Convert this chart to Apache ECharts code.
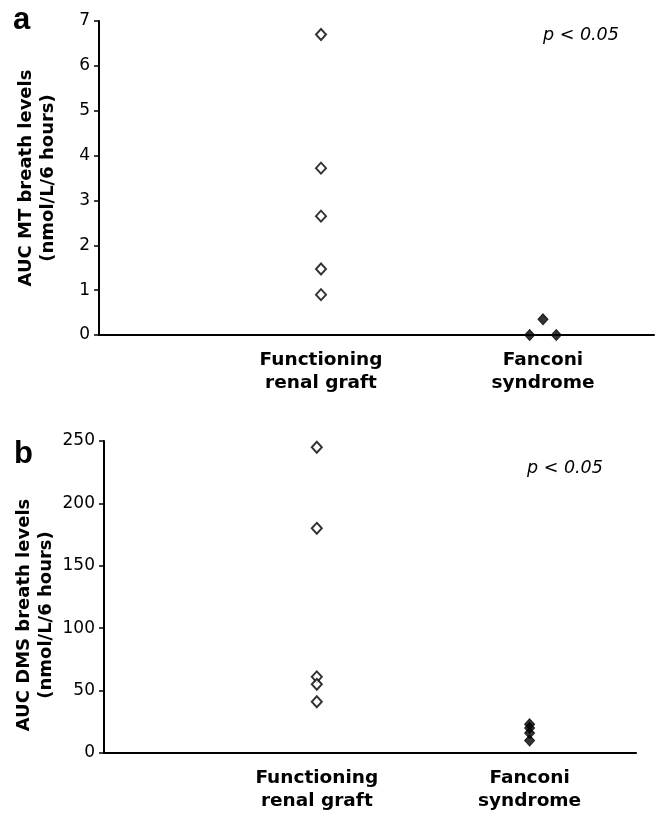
<!DOCTYPE html>
<html>
<head>
<meta charset="utf-8">
<script src="https://cdn.jsdelivr.net/npm/echarts@6/dist/echarts.min.js"></script>
<style>
html,body{margin:0;padding:0;background:#fff;}
#chart{width:657px;height:813px;}
</style>
</head>
<body>
<div id="chart"></div>
<script>
// Categories (x positions 1 and 2 on a hidden 0..2.5 value scale)
const categories = ['Functioning\nrenal graft', 'Fanconi\nsyndrome'];
// Panel a: AUC MT breath levels
const mtFunctioning = [6.70, 3.72, 2.65, 1.47, 0.90];
const mtFanconi = [0, 0.35, 0];
const mtFanconiPos = [1.94, 2.0, 2.06];
// Panel b: AUC DMS breath levels
const dmsFunctioning = [245, 180, 61, 55, 41];
const dmsFanconi = [23, 20, 16, 10];
const mtTicks = [0, 7, 1];
const dmsTicks = [0, 250, 50];

const FONT = 'DejaVu Sans';
const chart = echarts.init(document.getElementById('chart'), null, {renderer: 'canvas'});

function xAxisDef(gi) {
  return {
    type: 'value', gridIndex: gi, min: 0, max: 2.5, interval: 1,
    axisLine: {show: true, lineStyle: {color: '#000', width: 2}},
    axisTick: {show: false}, splitLine: {show: false},
    axisLabel: {
      margin: 14, color: '#000', fontFamily: FONT, fontWeight: 'bold', fontSize: 18.5, lineHeight: 23,
      showMinLabel: true, showMaxLabel: true,
      formatter: v => (v === 1 ? categories[0] : (v === 2 ? categories[1] : ''))
    }
  };
}
function yAxisDef(gi, t, name, pad, gap) {
  return {
    type: 'value', gridIndex: gi, min: t[0], max: t[1], interval: t[2],
    name: name, nameLocation: 'middle', nameRotate: 90, nameGap: gap, nameMoveOverlap: false,
    nameTextStyle: {color: '#000', fontFamily: FONT, fontWeight: 'bold', fontSize: 18, lineHeight: 22, padding: pad},
    axisLine: {show: true, lineStyle: {color: '#000', width: 2}},
    axisTick: {show: true, length: 5, lineStyle: {color: '#000', width: 1.5}},
    splitLine: {show: false},
    axisLabel: {margin: 9, color: '#000', fontFamily: FONT, fontSize: 17}
  };
}
const openSym = {color: '#fff', borderColor: '#000', borderWidth: 2};
const fillSym = {color: '#000', borderColor: '#000', borderWidth: 1};

chart.setOption({
  animation: false,
  backgroundColor: '#fff',
  title: [
    {text: 'a', left: 8, top: 0, textStyle: {fontFamily: 'Liberation Sans', fontWeight: 'bold', fontSize: 31, color: '#000'}},
    {text: 'b', left: 9, top: 434, textStyle: {fontFamily: 'Liberation Sans', fontWeight: 'bold', fontSize: 31, color: '#000'}},
    {text: 'p < 0.05', left: 538, top: 21, textStyle: {fontFamily: FONT, fontStyle: 'italic', fontWeight: 'normal', fontSize: 17.5, color: '#000'}},
    {text: 'p < 0.05', left: 522, top: 454, textStyle: {fontFamily: FONT, fontStyle: 'italic', fontWeight: 'normal', fontSize: 17.5, color: '#000'}}
  ],
  grid: [
    {left: 99, top: 21, width: 560, height: 314},
    {left: 104, top: 441, width: 532, height: 316}
  ],
  xAxis: [xAxisDef(0), xAxisDef(1)],
  yAxis: [
    yAxisDef(0, mtTicks, 'AUC MT breath levels\n(nmol/L/6 hours)', [0, 0, 0, 0], 40),
    yAxisDef(1, dmsTicks, 'AUC DMS breath levels\n(nmol/L/6 hours)', [0, 36, 0, 0], 47)
  ],
  series: [
    {type: 'scatter', xAxisIndex: 0, yAxisIndex: 0, symbol: 'diamond', symbolSize: [10, 11],
      itemStyle: openSym, data: mtFunctioning.map(v => [1, v])},
    {type: 'scatter', xAxisIndex: 0, yAxisIndex: 0, symbol: 'diamond', symbolSize: [10, 11],
      itemStyle: fillSym, data: mtFanconi.map((v, i) => [mtFanconiPos[i], v]), z: 3},
    {type: 'scatter', xAxisIndex: 1, yAxisIndex: 1, symbol: 'diamond', symbolSize: [10, 11],
      itemStyle: openSym, data: dmsFunctioning.map(v => [1, v])},
    {type: 'scatter', xAxisIndex: 1, yAxisIndex: 1, symbol: 'diamond', symbolSize: [10, 11],
      itemStyle: fillSym, data: dmsFanconi.map(v => [2, v]), z: 3}
  ]
});
</script>
</body>
</html>
